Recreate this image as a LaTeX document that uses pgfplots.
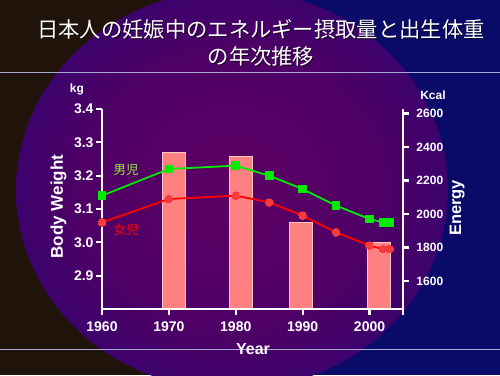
\documentclass[border=0pt]{standalone}
\usepackage{fontspec}
\setmainfont{Liberation Sans}
\newfontfamily\cjk{Noto Sans CJK JP}
\usepackage{pgfplots}
\pgfplotsset{compat=1.18}

\definecolor{bgbrown}{RGB}{32,20,10}
\definecolor{bgnavy}{RGB}{10,10,105}
\definecolor{barfill}{RGB}{255,128,128}
\definecolor{bardraw}{RGB}{255,200,200}
\definecolor{boy}{RGB}{0,235,0}
\definecolor{girl}{RGB}{255,0,0}
\definecolor{girlmark}{RGB}{245,60,60}
\definecolor{boylabel}{RGB}{150,235,60}
\definecolor{rulec}{RGB}{170,170,210}

\pgfdeclareradialshading{glow}{\pgfpoint{0bp}{0bp}}{%
  rgb(0bp)=(0.37,0,0.39);
  rgb(18bp)=(0.30,0,0.40);
  rgb(34bp)=(0.16,0.02,0.46);
  rgb(50bp)=(0.08,0.07,0.55)}

\pgfplotsset{
  myaxis/.style={
    at={(102pt,66pt)}, anchor=south west,
    scale only axis, width=301pt, height=200pt,
    xmin=1960, xmax=2005,
    line width=2.3pt,
    axis line style={white, line width=2.3pt},
    every outer x axis line/.append style={white, line width=2.3pt},
    every outer y axis line/.append style={white, line width=2.3pt},
    every tick/.style={white, line width=2.3pt},
    major tick style={white, line width=2.3pt},
    major tick length=6pt,
    tick align=outside,
    /pgf/number format/1000 sep={},
    /pgf/number format/assume math mode=true,
    tick label style={white},
  }
}

\begin{document}
\begin{tikzpicture}[x=1pt,y=1pt]
\useasboundingbox (0,0) rectangle (500,375);
\begin{scope}
\clip (0,0) rectangle (500,375);
\fill[bgnavy] (0,0) rectangle (500,375);
\fill[bgbrown] (0,0) rectangle (232,375);
\shade[shading=glow] (232,185) ellipse [x radius=216, y radius=200];
\draw[rulec, line width=0.8pt] (0,303) -- (500,303);
\draw[rulec, line width=0.8pt] (0,26) -- (500,26);
\end{scope}

\node[black, opacity=0.6, font=\cjk\fontsize{21.3}{26.5}\selectfont, align=center] at (262,331) {日本人の妊娠中のエネルギー摂取量と出生体重\\の年次推移};
\node[white, font=\cjk\fontsize{21.3}{26.5}\selectfont, align=center] at (261,332) {日本人の妊娠中のエネルギー摂取量と出生体重\\の年次推移};

% energy axis (bars, right y axis)
\begin{axis}[myaxis,
  ymin=1433, ymax=2626,
  axis x line=none,
  axis y line*=right,
  ytick={1600,1800,2000,2200,2400,2600},
  yticklabel style={font=\bfseries\fontsize{12}{12}\selectfont, xshift=3pt},
]
\addplot[ybar, bar width=23pt, fill=barfill, draw=bardraw, line width=0.6pt]
  coordinates {(1970.8,2367) (1980.8,2345) (1989.7,1950) (2001.4,1831)};
\end{axis}

% weight axis (lines, left y axis, bottom x axis)
\begin{axis}[myaxis,
  ymin=2.8, ymax=3.4,
  axis x line*=bottom,
  axis y line*=left,
  clip=false,
  xtick={1960,1970,1980,1990,2000,2005},
  xticklabels={1960,1970,1980,1990,2000,{}},
  ytick={2.9,3.0,3.1,3.2,3.3,3.4},
  yticklabel style={/pgf/number format/fixed, /pgf/number format/fixed zerofill, /pgf/number format/precision=1, xshift=2pt},
  xticklabel style={yshift=-2pt},
  tick label style={font=\bfseries\fontsize{14}{14}\selectfont},
]
\addplot[girl, line width=1.8pt, mark=*, mark size=3.8pt, mark options={fill=girlmark, draw=girlmark, line width=0pt}]
  coordinates {(1960,3.06) (1970,3.13) (1980,3.14) (1985,3.12) (1990,3.08) (1995,3.03) (2000,2.99) (2002,2.98) (2003,2.98)};
\addplot[boy, line width=1.8pt, mark=square*, mark size=3.8pt, mark options={fill=boy, draw=boy, line width=0pt}]
  coordinates {(1960,3.14) (1970,3.22) (1980,3.23) (1985,3.20) (1990,3.16) (1995,3.11) (2000,3.07) (2002,3.06) (2003,3.06)};
\end{axis}

\node[white, font=\bfseries\fontsize{17}{17}\selectfont, rotate=90] at (58.4,168.5) {Body Weight};
\node[white, font=\bfseries\fontsize{16.5}{16.5}\selectfont, rotate=90] at (457.3,167) {Energy};
\node[white, font=\bfseries\fontsize{16}{16}\selectfont] at (253,26) {Year};
\node[white, font=\bfseries\fontsize{12}{12}\selectfont] at (77,286) {kg};
\node[white, font=\bfseries\fontsize{12}{12}\selectfont] at (433,279.5) {Kcal};
\node[boylabel, font=\cjk\fontsize{12.5}{12.5}\selectfont] at (126,205) {男児};
\node[girl, font=\cjk\fontsize{12.5}{12.5}\selectfont] at (126,145) {女児};
\end{tikzpicture}
\end{document}
